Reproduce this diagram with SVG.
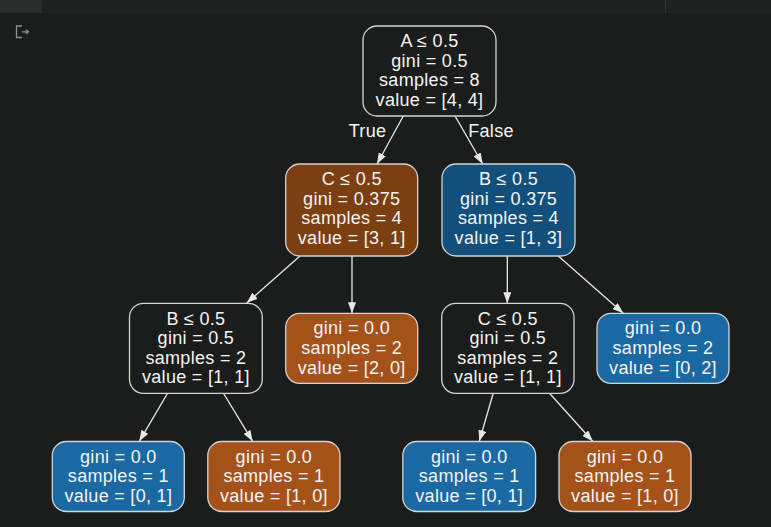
<svg xmlns="http://www.w3.org/2000/svg" width="771" height="527" viewBox="0 0 771 527">
<defs>
<style>
.n{stroke:#d4d4d4;stroke-width:1.3}
.dk{fill:#1b1c1c}
.b1{fill:#7b3f12}
.b2{fill:#a4521a}
.u1{fill:#12507b}
.u2{fill:#1a69a3}
text{font-family:"Liberation Sans",Arial,sans-serif;font-size:18px;letter-spacing:0.3px;fill:#f4f4f4;text-anchor:middle}
.e line{stroke:#e8e8e4;stroke-width:1.3;marker-end:url(#ah)}
</style>
<marker id="ah" markerUnits="userSpaceOnUse" markerWidth="11" markerHeight="8" refX="11" refY="4" orient="auto">
<path d="M0,0 L11,4 L0,8 z" fill="#e8e8e4"/>
</marker>
</defs>
<rect width="771" height="527" fill="#1b1c1c"/>
<rect width="771" height="13" fill="#202222"/>
<rect width="42" height="13" fill="#2a2c2d"/>
<rect x="665" y="0" width="1" height="13" fill="#333535"/>
<g fill="none" stroke="#8f8f8f" stroke-width="1.3">
<path d="M22,26 H16.5 V37.5 H22"/>
<path d="M22,31.8 H28 M26,29.8 L28.5,31.8 L26,33.8"/>
</g>
<g id="connectors" class="e">
<line x1="403.3" y1="116" x2="377" y2="164"/>
<line x1="455" y1="116" x2="482.7" y2="164"/>
<line x1="300" y1="256" x2="246.7" y2="303"/>
<line x1="352" y1="256" x2="352" y2="313.3"/>
<line x1="507.3" y1="256" x2="507.3" y2="303.3"/>
<line x1="558.3" y1="256" x2="623.3" y2="313.3"/>
<line x1="167.7" y1="393" x2="139.3" y2="441.3"/>
<line x1="223.3" y1="393" x2="252.7" y2="441.3"/>
<line x1="493.3" y1="393" x2="479.3" y2="441.3"/>
<line x1="549.3" y1="393" x2="592.7" y2="441.3"/>
<text x="367.5" y="137">True</text>
<text x="491" y="137">False</text>
</g>
<g id="n0">
<rect class="n dk" x="363" y="26" width="133" height="90" rx="14"/>
<text x="429.5" y="47">A ≤ 0.5</text>
<text x="429.5" y="66.5">gini = 0.5</text>
<text x="429.5" y="86">samples = 8</text>
<text x="429.5" y="105.5">value = [4, 4]</text>
</g>
<g id="n1">
<rect class="n b1" x="285.7" y="164" width="132" height="92" rx="14"/>
<text x="351.7" y="185">C ≤ 0.5</text>
<text x="351.7" y="204.5">gini = 0.375</text>
<text x="351.7" y="224">samples = 4</text>
<text x="351.7" y="243.5">value = [3, 1]</text>
</g>
<g id="n2">
<rect class="n u1" x="442" y="164" width="133" height="92" rx="14"/>
<text x="508.5" y="185">B ≤ 0.5</text>
<text x="508.5" y="204.5">gini = 0.375</text>
<text x="508.5" y="224">samples = 4</text>
<text x="508.5" y="243.5">value = [1, 3]</text>
</g>
<g id="n3">
<rect class="n dk" x="129.5" y="303.3" width="132.8" height="90" rx="14"/>
<text x="195.9" y="324.5">B ≤ 0.5</text>
<text x="195.9" y="344">gini = 0.5</text>
<text x="195.9" y="363.5">samples = 2</text>
<text x="195.9" y="383">value = [1, 1]</text>
</g>
<g id="n4">
<rect class="n b2" x="285.7" y="313.3" width="132" height="70" rx="14"/>
<text x="351.7" y="334.3">gini = 0.0</text>
<text x="351.7" y="354">samples = 2</text>
<text x="351.7" y="373.5">value = [2, 0]</text>
</g>
<g id="n5">
<rect class="n dk" x="441.7" y="303.3" width="132.3" height="90" rx="14"/>
<text x="507.8" y="324.5">C ≤ 0.5</text>
<text x="507.8" y="344">gini = 0.5</text>
<text x="507.8" y="363.5">samples = 2</text>
<text x="507.8" y="383">value = [1, 1]</text>
</g>
<g id="n6">
<rect class="n u2" x="597" y="313.3" width="132" height="70" rx="14"/>
<text x="663" y="334.3">gini = 0.0</text>
<text x="663" y="354">samples = 2</text>
<text x="663" y="373.5">value = [0, 2]</text>
</g>
<g id="n7">
<rect class="n u2" x="52.3" y="441.5" width="132" height="70" rx="14"/>
<text x="118.3" y="462.5">gini = 0.0</text>
<text x="118.3" y="482.3">samples = 1</text>
<text x="118.3" y="501.8">value = [0, 1]</text>
</g>
<g id="n8">
<rect class="n b2" x="207.8" y="441.5" width="132.2" height="70" rx="14"/>
<text x="273.9" y="462.5">gini = 0.0</text>
<text x="273.9" y="482.3">samples = 1</text>
<text x="273.9" y="501.8">value = [1, 0]</text>
</g>
<g id="n9">
<rect class="n u2" x="402.8" y="441.5" width="132.8" height="70" rx="14"/>
<text x="469.2" y="462.5">gini = 0.0</text>
<text x="469.2" y="482.3">samples = 1</text>
<text x="469.2" y="501.8">value = [0, 1]</text>
</g>
<g id="n10">
<rect class="n b2" x="559" y="441.5" width="132" height="70" rx="14"/>
<text x="625" y="462.5">gini = 0.0</text>
<text x="625" y="482.3">samples = 1</text>
<text x="625" y="501.8">value = [1, 0]</text>
</g>
</svg>
